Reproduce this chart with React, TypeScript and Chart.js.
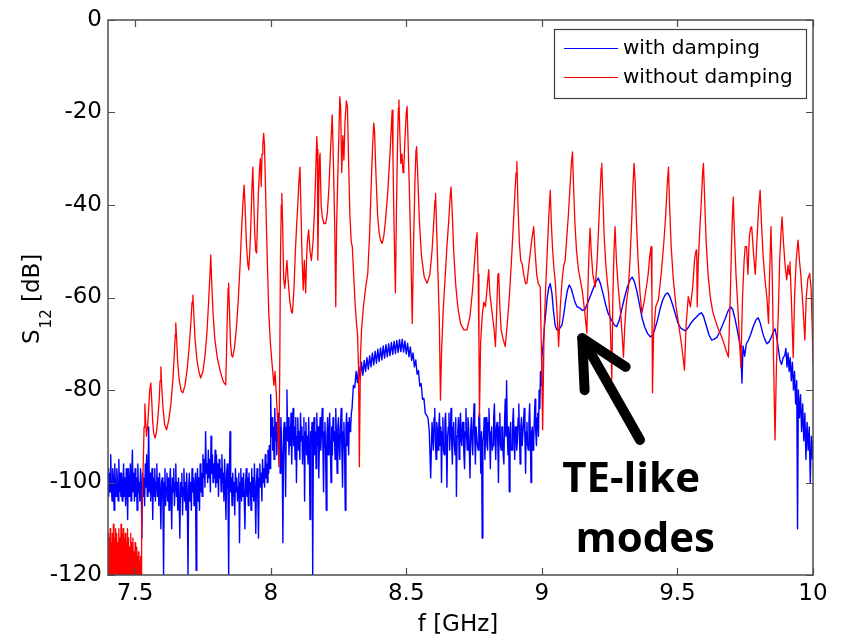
import { useEffect, useRef } from 'react';
import { Chart, registerables } from 'chart.js';

Chart.register(...registerables);

// ---- axis ticks ----
const xTicks = [7.5, 8, 8.5, 9, 9.5, 10];
const yTicks = [-120, -100, -80, -60, -40, -20, 0];
const seriesLabels = ['with damping', 'without damping'];

// ---- "with damping" (blue) ----
const blueFreq = [
  7.4, 7.4025, 7.405, 7.4075, 7.41, 7.4125, 7.415, 7.4175, 7.42, 7.4225, 7.425, 7.4275, 7.43, 7.4325, 7.435, 7.4375, 7.44, 7.4425, 7.445, 7.4475,
  7.45, 7.4525, 7.455, 7.4575, 7.46, 7.4625, 7.465, 7.4675, 7.47, 7.4725, 7.475, 7.4775, 7.48, 7.4825, 7.485, 7.4875, 7.49, 7.4925, 7.495, 7.4975,
  7.5, 7.5025, 7.505, 7.5075, 7.51, 7.5125, 7.515, 7.5175, 7.52, 7.5225, 7.525, 7.5275, 7.53, 7.5325, 7.535, 7.5375, 7.54, 7.5425, 7.545, 7.5475,
  7.55, 7.5525, 7.555, 7.5575, 7.56, 7.5625, 7.565, 7.5675, 7.57, 7.5725, 7.575, 7.5775, 7.58, 7.5825, 7.585, 7.5875, 7.59, 7.5925, 7.595, 7.5975,
  7.6, 7.6025, 7.605, 7.6075, 7.61, 7.6125, 7.615, 7.6175, 7.62, 7.6225, 7.625, 7.6275, 7.63, 7.6325, 7.635, 7.6375, 7.64, 7.6425, 7.645, 7.6475,
  7.65, 7.6525, 7.655, 7.6575, 7.66, 7.6625, 7.665, 7.6675, 7.67, 7.6725, 7.675, 7.6775, 7.68, 7.6825, 7.685, 7.6875, 7.69, 7.6925, 7.695, 7.6975,
  7.7, 7.7025, 7.705, 7.7075, 7.71, 7.7125, 7.715, 7.7175, 7.72, 7.7225, 7.725, 7.7275, 7.73, 7.7325, 7.735, 7.7375, 7.74, 7.7425, 7.745, 7.7475,
  7.75, 7.7525, 7.755, 7.7575, 7.76, 7.7625, 7.765, 7.7675, 7.77, 7.7725, 7.775, 7.7775, 7.78, 7.7825, 7.785, 7.7875, 7.79, 7.7925, 7.795, 7.7975,
  7.8, 7.8025, 7.805, 7.8075, 7.81, 7.8125, 7.815, 7.8175, 7.82, 7.8225, 7.825, 7.8275, 7.83, 7.8325, 7.835, 7.8375, 7.84, 7.8425, 7.845, 7.8475,
  7.85, 7.8525, 7.855, 7.8575, 7.86, 7.8625, 7.865, 7.8675, 7.87, 7.8725, 7.875, 7.8775, 7.88, 7.8825, 7.885, 7.8875, 7.89, 7.8925, 7.895, 7.8975,
  7.9, 7.9025, 7.905, 7.9075, 7.91, 7.9125, 7.915, 7.9175, 7.92, 7.9225, 7.925, 7.9275, 7.93, 7.9325, 7.935, 7.9375, 7.94, 7.9425, 7.945, 7.9475,
  7.95, 7.9525, 7.955, 7.9575, 7.96, 7.9625, 7.965, 7.9675, 7.97, 7.9725, 7.975, 7.9775, 7.98, 7.9825, 7.985, 7.9875, 7.99, 7.9925, 7.995, 7.9975,
  8.0, 8.0025, 8.005, 8.0075, 8.01, 8.0125, 8.015, 8.0175, 8.02, 8.0225, 8.025, 8.0275, 8.03, 8.0325, 8.035, 8.0375, 8.04, 8.0425, 8.045, 8.0475,
  8.05, 8.0525, 8.055, 8.0575, 8.06, 8.0625, 8.065, 8.0675, 8.07, 8.0725, 8.075, 8.0775, 8.08, 8.0825, 8.085, 8.0875, 8.09, 8.0925, 8.095, 8.0975,
  8.1, 8.1025, 8.105, 8.1075, 8.11, 8.1125, 8.115, 8.1175, 8.12, 8.1225, 8.125, 8.1275, 8.13, 8.1325, 8.135, 8.1375, 8.14, 8.1425, 8.145, 8.1475,
  8.15, 8.1525, 8.155, 8.1575, 8.16, 8.1625, 8.165, 8.1675, 8.17, 8.1725, 8.175, 8.1775, 8.18, 8.1825, 8.185, 8.1875, 8.19, 8.1925, 8.195, 8.1975,
  8.2, 8.2025, 8.205, 8.2075, 8.21, 8.2125, 8.215, 8.2175, 8.22, 8.2225, 8.225, 8.2275, 8.23, 8.2325, 8.235, 8.2375, 8.24, 8.2425, 8.245, 8.2475,
  8.25, 8.2525, 8.255, 8.2575, 8.26, 8.2625, 8.265, 8.2675, 8.27, 8.2725, 8.275, 8.2775, 8.28, 8.2825, 8.285, 8.2875, 8.29, 8.2925, 8.295, 8.2975,
  8.300, 8.305, 8.310, 8.315, 8.320, 8.325, 8.330, 8.335, 8.340, 8.345,
  8.350, 8.355, 8.360, 8.365, 8.370, 8.375, 8.380, 8.385, 8.390, 8.395,
  8.400, 8.405, 8.410, 8.415, 8.420, 8.425, 8.430, 8.435, 8.440, 8.445,
  8.450, 8.455, 8.460, 8.465, 8.470, 8.475, 8.480, 8.485, 8.490, 8.495,
  8.500, 8.505, 8.510, 8.515, 8.520, 8.525, 8.530, 8.535, 8.540, 8.545,
  8.550, 8.555, 8.560, 8.565, 8.570, 8.575, 8.580, 8.585, 8.590, 8.595,
  8.6, 8.6025, 8.605, 8.6075, 8.61, 8.6125, 8.615, 8.6175, 8.62, 8.6225, 8.625, 8.6275, 8.63, 8.6325, 8.635, 8.6375, 8.64, 8.6425, 8.645, 8.6475,
  8.65, 8.6525, 8.655, 8.6575, 8.66, 8.6625, 8.665, 8.6675, 8.67, 8.6725, 8.675, 8.6775, 8.68, 8.6825, 8.685, 8.6875, 8.69, 8.6925, 8.695, 8.6975,
  8.7, 8.7025, 8.705, 8.7075, 8.71, 8.7125, 8.715, 8.7175, 8.72, 8.7225, 8.725, 8.7275, 8.73, 8.7325, 8.735, 8.7375, 8.74, 8.7425, 8.745, 8.7475,
  8.75, 8.7525, 8.755, 8.7575, 8.76, 8.7625, 8.765, 8.7675, 8.77, 8.7725, 8.775, 8.7775, 8.78, 8.7825, 8.785, 8.7875, 8.79, 8.7925, 8.795, 8.7975,
  8.8, 8.8025, 8.805, 8.8075, 8.81, 8.8125, 8.815, 8.8175, 8.82, 8.8225, 8.825, 8.8275, 8.83, 8.8325, 8.835, 8.8375, 8.84, 8.8425, 8.845, 8.8475,
  8.85, 8.8525, 8.855, 8.8575, 8.86, 8.8625, 8.865, 8.8675, 8.87, 8.8725, 8.875, 8.8775, 8.88, 8.8825, 8.885, 8.8875, 8.89, 8.8925, 8.895, 8.8975,
  8.9, 8.9025, 8.905, 8.9075, 8.91, 8.9125, 8.915, 8.9175, 8.92, 8.9225, 8.925, 8.9275, 8.93, 8.9325, 8.935, 8.9375, 8.94, 8.9425, 8.945, 8.9475,
  8.95, 8.9525, 8.955, 8.9575, 8.96, 8.9625, 8.965, 8.9675, 8.97, 8.9725, 8.975, 8.9775, 8.98, 8.9825, 8.985, 8.9875, 8.99, 8.9925, 8.995, 8.9975,
  9.000, 9.005, 9.010, 9.015, 9.020, 9.025, 9.031, 9.037, 9.043, 9.049,
  9.055, 9.062, 9.068, 9.074, 9.080, 9.087, 9.094, 9.101, 9.108, 9.115,
  9.122, 9.130, 9.141, 9.150, 9.160, 9.170, 9.180, 9.190, 9.200, 9.208,
  9.216, 9.225, 9.235, 9.245, 9.258, 9.268, 9.276, 9.285, 9.295, 9.305,
  9.315, 9.325, 9.333, 9.341, 9.350, 9.360, 9.370, 9.380, 9.390, 9.400,
  9.408, 9.416, 9.426, 9.436, 9.446, 9.456, 9.464, 9.472, 9.482, 9.492,
  9.502, 9.512, 9.522, 9.530, 9.540, 9.550, 9.560, 9.570, 9.580, 9.588,
  9.596, 9.606, 9.616, 9.626, 9.636, 9.646, 9.656, 9.666, 9.676, 9.686,
  9.696, 9.704, 9.712, 9.720, 9.728, 9.734, 9.738, 9.742, 9.748, 9.754,
  9.762, 9.770, 9.780, 9.790, 9.798, 9.806, 9.814, 9.822, 9.830, 9.838,
  9.846, 9.854, 9.860, 9.866, 9.872, 9.878, 9.884, 9.890, 9.896, 9.900,
  9.904, 9.908, 9.912, 9.916, 9.920, 9.924, 9.928, 9.932, 9.936, 9.940,
  9.943, 9.946, 9.950, 9.954, 9.958, 9.962, 9.966, 9.970, 9.974, 9.978,
  9.982, 9.986, 9.990, 9.994, 9.998, 10.000,
];
const blueDb = [
  -97, -103, -98, -102, -94, -101, -104, -97, -99, -106, -96, -101, -103, -97, -100, -104, -95, -102, -98, -103,
  -98, -104, -101, -96, -103, -99, -105, -97, -101, -108, -97, -103, -100, -96, -104, -99, -93, -102, -98, -104,
  -97, -103, -99, -106, -96, -102, -100, -104, -97, -101, -112, -98, -103, -99, -105, -96, -101, -94, -103, -99,
  -88, -102, -98, -104, -100, -97, -108, -99, -103, -97, -104, -100, -96, -103, -99, -105, -98, -102, -110, -100,
  -99, -104, -120, -100, -97, -105, -101, -98, -104, -99, -106, -100, -97, -103, -110, -99, -102, -97, -105, -100,
  -96, -103, -100, -106, -99, -104, -112, -100, -103, -98, -107, -101, -97, -104, -100, -106, -98, -103, -120, -101,
  -98, -104, -100, -106, -97, -102, -99, -105, -101, -98, -119, -100, -97, -104, -99, -106, -96, -102, -98, -103,
  -94, -99, -95, -101, -89, -98, -96, -100, -93, -99, -95, -102, -90, -98, -94, -100, -96, -99, -93, -101,
  -94, -100, -96, -103, -95, -99, -97, -102, -94, -100, -98, -104, -95, -101, -108, -98, -96, -102, -120, -99,
  -89, -102, -99, -105, -98, -103, -100, -107, -97, -102, -99, -104, -101, -98, -113, -100, -97, -104, -99, -103,
  -98, -104, -110, -100, -97, -103, -99, -105, -98, -102, -100, -106, -97, -103, -99, -104, -96, -102, -111, -100,
  -97, -103, -112, -99, -96, -101, -98, -104, -95, -100, -97, -101, -94, -99, -96, -100, -93, -98, -92, -97,
  -81, -90, -86, -93, -88, -95, -84, -91, -87, -94, -89, -85, -92, -88, -98, -86, -91, -95, -113, -89,
  -87, -93, -103, -88, -80, -91, -86, -94, -88, -92, -85, -96, -89, -84, -92, -88, -95, -86, -100, -90,
  -86, -93, -89, -95, -85, -91, -88, -96, -90, -86, -104, -89, -87, -94, -90, -96, -86, -92, -108, -89,
  -91, -87, -120, -90, -86, -94, -89, -97, -85, -92, -88, -99, -90, -86, -93, -88, -84, -92, -102, -89,
  -87, -93, -106, -90, -86, -94, -89, -85, -92, -100, -88, -94, -86, -91, -89, -95, -84, -90, -98, -88,
  -86, -92, -95, -88, -84, -93, -101, -89, -87, -93, -106, -88, -85, -92, -87, -94, -86, -89, -88, -85,
  -84, -79, -79.5, -76, -78.4, -75, -77.6, -74, -76.8, -73.6,
  -76, -73, -75.5, -72.6, -75, -72, -74.6, -71.6, -74.2, -71.2,
  -73.8, -70.9, -73.5, -70.5, -73.1, -70.2, -72.8, -70, -72.6, -69.7,
  -72.3, -69.5, -72.1, -69.3, -71.9, -69.1, -71.7, -69, -71.8, -69.4,
  -72.2, -69.9, -72.8, -70.7, -73.6, -72, -75, -73.5, -76.6, -75.8,
  -79.2, -78.6, -82, -81.8, -85, -85.5, -86, -89, -99, -87,
  -93, -86, -84, -91, -95, -87, -89, -93, -88, -85, -92, -88, -100, -89, -86, -93, -94, -87, -85, -91,
  -101, -90, -88, -85, -93, -89, -84, -91, -96, -88, -87, -92, -94, -86, -103, -90, -89, -86, -95, -88,
  -85, -91, -92, -87, -87, -94, -97, -89, -84, -90, -93, -86, -88, -93, -99, -89, -86, -91, -94, -87,
  -83, -90, -96, -88, -88, -92, -93, -86, -85, -91, -98, -89, -112, -91, -90, -86, -95, -89, -86, -92,
  -93, -87, -84, -90, -97, -89, -88, -93, -92, -86, -83, -90, -95, -88, -87, -91, -100, -88, -85, -92,
  -93, -88, -88, -94, -96, -87, -82, -90, -78, -89, -94, -88, -102, -90, -87, -93, -93, -87, -84, -90,
  -95, -88, -88, -93, -91, -86, -83, -90, -96, -88, -86, -92, -92, -87, -84, -90, -98, -89, -87, -92,
  -93, -87, -83, -90, -100, -89, -88, -93, -91, -86, -82, -89, -92, -86, -85, -90, -80, -84, -76, -79,
  -73, -70, -66, -63, -60, -58, -57, -59, -63, -66,
  -67, -67, -66.5, -66, -64, -61, -58.5, -57.3, -58, -59.5,
  -61, -62, -62.3, -62.8, -62.5, -61, -59.5, -58, -56.5, -55.8,
  -57, -59, -61.5, -63.5, -65, -66, -66.3, -65, -62.5, -60,
  -57.8, -56.2, -55.6, -56.5, -58.5, -61.5, -64.5, -66.5, -67.8, -68.5,
  -68.2, -67, -65, -62.5, -60.5, -59.3, -59, -59.8, -61.5, -63.5,
  -65.5, -66.6, -67, -67.2, -66.5, -65.5, -64.8, -64.2, -63.6, -63.3,
  -64, -66, -68, -69.2, -69, -68.6, -67.4, -66, -64.6, -63,
  -62, -62.6, -64.5, -66.8, -69.4, -71.5, -78.5, -70.5, -72.7, -70,
  -69.2, -68, -66.2, -64.8, -64.4, -65.6, -67.6, -69, -70, -69.6,
  -68.6, -67.4, -66.8, -68.5, -71, -73.5, -74.5, -73, -72.5, -71,
  -75, -72, -76, -73, -78, -74, -80, -76, -83, -78,
  -110, -80, -86, -81, -89, -83, -91, -85, -95, -87,
  -93, -88, -100, -90, -95, -91,
];

// ---- "without damping" (red) ----
const redFreq = [
  7.400, 7.402, 7.404, 7.406, 7.408, 7.410, 7.412, 7.414, 7.416, 7.418,
  7.420, 7.422, 7.424, 7.426, 7.428, 7.430, 7.432, 7.434, 7.436, 7.438,
  7.440, 7.442, 7.444, 7.446, 7.448, 7.450, 7.452, 7.454, 7.456, 7.458,
  7.460, 7.462, 7.464, 7.466, 7.468, 7.470, 7.472, 7.474, 7.476, 7.478,
  7.480, 7.482, 7.484, 7.486, 7.488, 7.490, 7.492, 7.494, 7.496, 7.498,
  7.500, 7.502, 7.504, 7.506, 7.508, 7.510, 7.512, 7.514, 7.516, 7.518,
  7.520, 7.522, 7.524,
  7.526, 7.530, 7.533, 7.536, 7.539, 7.542, 7.546, 7.550,
  7.554, 7.558, 7.561, 7.565, 7.569, 7.574, 7.579, 7.584, 7.589, 7.592,
  7.595, 7.598, 7.603, 7.609, 7.616, 7.624, 7.632, 7.639, 7.644, 7.648,
  7.650, 7.653, 7.657, 7.663, 7.670, 7.676, 7.684, 7.692, 7.699, 7.705,
  7.710, 7.713, 7.716, 7.721, 7.728, 7.735, 7.742, 7.750, 7.758, 7.765,
  7.771, 7.776, 7.779, 7.782, 7.787, 7.794, 7.803, 7.814, 7.826, 7.834,
  7.837, 7.840, 7.843, 7.845, 7.848, 7.852, 7.856, 7.860, 7.866, 7.873,
  7.880, 7.887, 7.893, 7.898, 7.902, 7.906, 7.911, 7.916, 7.919, 7.923,
  7.927, 7.931, 7.934, 7.937, 7.941, 7.945, 7.948, 7.951, 7.955, 7.959,
  7.962, 7.965, 7.968, 7.971, 7.974, 7.977, 7.980, 7.984, 7.988, 7.993,
  7.999, 8.006, 8.012, 8.016, 8.020, 8.024, 8.028, 8.030, 8.033, 8.036,
  8.039, 8.041, 8.044, 8.048, 8.052, 8.056, 8.060, 8.064, 8.070, 8.076,
  8.080, 8.086, 8.091, 8.096, 8.100, 8.104, 8.108, 8.112, 8.116, 8.120,
  8.124, 8.129, 8.132, 8.135, 8.140, 8.145, 8.150, 8.156, 8.161, 8.166,
  8.170, 8.172, 8.174, 8.177, 8.180, 8.182, 8.186, 8.190, 8.196, 8.203,
  8.209, 8.215, 8.220, 8.224, 8.227, 8.231, 8.236, 8.240, 8.243, 8.247,
  8.251, 8.255, 8.258, 8.262, 8.266, 8.270, 8.274, 8.279, 8.283, 8.287,
  8.292, 8.297, 8.301, 8.306, 8.312, 8.317, 8.320, 8.324, 8.327, 8.331,
  8.335, 8.342, 8.350, 8.358, 8.365, 8.371, 8.376, 8.380, 8.383, 8.388,
  8.394, 8.400, 8.405, 8.411, 8.417, 8.424, 8.432, 8.440, 8.445, 8.448,
  8.451, 8.455, 8.460, 8.464, 8.468, 8.471, 8.473, 8.476, 8.480, 8.484,
  8.488, 8.491, 8.495, 8.500, 8.503, 8.507, 8.512, 8.517, 8.522, 8.527,
  8.532, 8.536, 8.538, 8.542, 8.548, 8.556, 8.566, 8.577, 8.587, 8.595,
  8.601, 8.606, 8.608, 8.612, 8.617, 8.622, 8.626, 8.630, 8.636, 8.643,
  8.650, 8.657, 8.662, 8.665, 8.669, 8.675, 8.682, 8.690, 8.700, 8.712,
  8.724, 8.735, 8.745, 8.752, 8.757, 8.761, 8.765, 8.768, 8.770, 8.774,
  8.780, 8.786, 8.792, 8.798, 8.804, 8.808, 8.812, 8.818, 8.824, 8.829,
  8.834, 8.838, 8.841, 8.845, 8.850, 8.857, 8.865, 8.872, 8.880, 8.888,
  8.895, 8.901, 8.905, 8.908, 8.912, 8.917, 8.922, 8.927, 8.933, 8.940,
  8.945, 8.952, 8.958, 8.964, 8.970, 8.975, 8.981, 8.987, 8.994, 8.998,
  9.003, 9.008, 9.014, 9.020, 9.026, 9.031, 9.035, 9.040, 9.045, 9.049,
  9.055, 9.062, 9.068, 9.075, 9.081, 9.086, 9.092, 9.098, 9.104, 9.109,
  9.113, 9.117, 9.122, 9.128, 9.135, 9.142, 9.150, 9.158, 9.166, 9.170,
  9.174, 9.178, 9.182, 9.188, 9.197, 9.204, 9.210, 9.215, 9.219, 9.221,
  9.225, 9.230, 9.236, 9.242, 9.246, 9.252, 9.258, 9.262, 9.266, 9.270,
  9.275, 9.282, 9.290, 9.296, 9.301, 9.306, 9.312, 9.319, 9.325, 9.331,
  9.336, 9.340, 9.344, 9.349, 9.355, 9.362, 9.369, 9.377, 9.385, 9.392,
  9.398, 9.403, 9.406, 9.408, 9.412, 9.420, 9.430, 9.440, 9.450, 9.457,
  9.462, 9.467, 9.471, 9.477, 9.485, 9.495, 9.505, 9.516, 9.521, 9.526,
  9.532, 9.540, 9.548, 9.556, 9.563, 9.568, 9.571, 9.573, 9.577, 9.583,
  9.589, 9.593, 9.596, 9.600, 9.606, 9.613, 9.621, 9.630, 9.640, 9.652,
  9.663, 9.672, 9.680, 9.688, 9.694, 9.699, 9.703, 9.706, 9.710, 9.716,
  9.724, 9.734, 9.740, 9.746, 9.750, 9.755, 9.760, 9.765, 9.770, 9.774,
  9.780, 9.787, 9.793, 9.799, 9.805, 9.810, 9.816, 9.823, 9.830, 9.836,
  9.840, 9.845, 9.850, 9.855, 9.860, 9.865, 9.872, 9.877, 9.882, 9.886,
  9.891, 9.897, 9.903, 9.908, 9.912, 9.915, 9.920, 9.927, 9.932, 9.938,
  9.945, 9.950, 9.955, 9.958, 9.963, 9.970, 9.975, 9.981, 9.988, 9.993,
  9.997, 10.000,
];
const redDb = [
  -111, -123, -112, -126, -110, -121, -113, -125, -111, -122,
  -109, -124, -112, -127, -110, -120, -111, -125, -113, -123,
  -110, -126, -112, -121, -109, -124, -111, -127, -110, -122,
  -112, -125, -111, -120, -113, -126, -110, -123, -112, -127,
  -114, -122, -111, -125, -113, -121, -112, -126, -115, -123,
  -113, -127, -114, -122, -116, -125, -115, -121, -117, -126,
  -116, -120, -110,
  -104, -96, -88, -83, -87, -90, -88, -84,
  -80, -78.5, -82, -87, -89.5, -90.4, -89, -86, -82, -78,
  -75, -79, -84, -87.5, -88.6, -86.5, -83, -78, -73, -68,
  -65.5, -69, -74, -78, -80.2, -80.6, -79, -75.5, -71, -66,
  -61, -59.5, -63, -69, -73.5, -76, -77.4, -76, -72.5, -67.5,
  -61, -55, -50.8, -56, -63, -69, -73, -76, -78.3, -78.9,
  -72, -64, -58, -56.9, -63, -70, -72.5, -72.9, -71, -67,
  -61, -53, -45, -39, -35.7, -41, -49, -53, -54, -50,
  -44, -36, -31.8, -38, -46, -50, -50.4, -44, -37, -32,
  -30, -36, -29, -27, -24.5, -27, -34, -44, -53, -63.4,
  -70, -75, -79, -76, -80, -85, -91, -96.6, -78, -52,
  -40, -37.5, -44, -56, -58, -55, -52, -56, -60.5, -63,
  -63.4, -58, -50, -44, -40, -35, -31.8, -42, -52, -58.4,
  -52, -59, -52, -48.3, -45.4, -50, -52, -48, -42, -33,
  -25.2, -28, -51.9, -38, -30, -28.8, -40, -42.5, -44, -44,
  -41.8, -36, -29, -24, -20.5, -30, -44, -62, -45, -35,
  -26, -16.6, -19, -33, -25, -30.3, -22, -17.5, -18.7, -30,
  -42, -48, -49, -55, -62, -66, -67.7, -75, -96.6, -73,
  -67, -62, -58, -54.8, -46, -35, -27, -22.3, -24, -33,
  -42, -46, -47.6, -48.3, -46.8, -43, -37, -29, -23, -19.5,
  -30, -45, -59, -40, -26, -19, -17.3, -24, -31, -29,
  -33, -31.8, -26, -20, -18.7, -27, -38, -50, -65.6, -48,
  -35, -28, -27.4, -33, -43, -51, -55.5, -56.9, -55, -50,
  -44, -39, -37.5, -45, -55, -65, -82.2, -72, -63, -56,
  -49, -43, -38, -36.1, -41, -50, -57, -62, -65.6, -67,
  -67, -64, -58, -52, -48, -46, -55, -70, -85.8, -70,
  -64, -61, -62, -58, -54, -59, -61, -64, -67, -70.6,
  -62, -55, -54.8, -62, -67, -69, -70.6, -66, -60, -52,
  -44, -37, -33, -30.6, -40, -48, -52, -52.6, -55, -57,
  -56.9, -53, -50, -47, -44.7, -50, -55, -57, -57.7, -70,
  -88.6, -68, -58, -50, -42, -36.8, -44, -50, -54, -56.2,
  -62, -70.6, -62, -56, -53, -52, -47, -42, -36, -31,
  -28.5, -36, -44, -50, -54, -56.2, -59, -63, -67.7, -58,
  -50, -45, -50, -55, -57.7, -52, -44, -37, -32, -31,
  -38, -47, -53, -57, -59, -65, -77.8, -60, -50, -44.7,
  -52, -58, -63, -68, -72.9, -66, -61, -58, -52, -44,
  -36, -31, -34.6, -44, -52, -59, -63.4, -61, -58, -55,
  -51, -49, -60, -80.6, -68, -62, -60.5, -55, -48, -42,
  -36, -31.8, -40, -49, -56.2, -62, -66, -70.6, -73, -75.7,
  -66, -59.8, -62, -58, -52, -50, -49.7, -62, -52, -45,
  -38, -33, -31, -38, -48, -55, -59.8, -63, -65, -67,
  -68.5, -70, -71.5, -72.9, -62, -50, -42, -38.3, -46, -55,
  -63.4, -75, -60, -52, -49, -49, -55, -47, -45, -44.7,
  -50, -55, -48, -41, -36.8, -44, -51, -56.2, -60, -65.6,
  -55, -44.7, -56, -75, -90.8, -75, -63.4, -52, -46, -42.6,
  -48, -53, -56.2, -53, -55, -52.3, -60, -73, -60, -52,
  -47.6, -52, -55, -57.7, -62, -69.2, -60, -56, -54.8, -58,
  -66, -74.2,
];

// ---- annotation anchors (data units) ----
const arrowTip = { f: 9.149, db: -68.8 };
const arrowTail = { f: 9.362, db: -90.8 };
const noteLines = [
  { text: 'TE-like', f: 9.329, db: -102.0 },
  { text: 'modes', f: 9.381, db: -115.0 },
];

const blueColor = '#0000ff';
const redColor = '#ff0000';

const overlayPlugin = {
  id: 'overlay',
  afterDraw(chart: any) {
    const { ctx, chartArea: a, scales } = chart;
    const xs = scales.x;
    const ys = scales.y;
    ctx.save();

    // axes box
    ctx.strokeStyle = '#4d4d4d';
    ctx.lineWidth = 1.5;
    ctx.strokeRect(a.left, a.top, a.right - a.left, a.bottom - a.top);

    // inward ticks on all four sides
    ctx.lineWidth = 1.2;
    ctx.beginPath();
    const tl = 7;
    xTicks.forEach((v) => {
      const px = Math.round(xs.getPixelForValue(v)) + 0.5;
      ctx.moveTo(px, a.bottom);
      ctx.lineTo(px, a.bottom - tl);
      ctx.moveTo(px, a.top);
      ctx.lineTo(px, a.top + tl);
    });
    yTicks.forEach((v) => {
      const py = Math.round(ys.getPixelForValue(v)) + 0.5;
      ctx.moveTo(a.left, py);
      ctx.lineTo(a.left + tl, py);
      ctx.moveTo(a.right, py);
      ctx.lineTo(a.right - tl, py);
    });
    ctx.stroke();

    // legend
    const lx = 554, ly = 29, lw = 252, lh = 69;
    ctx.fillStyle = '#ffffff';
    ctx.fillRect(lx, ly, lw, lh);
    ctx.strokeStyle = '#404040';
    ctx.lineWidth = 1.2;
    ctx.strokeRect(lx + 0.5, ly + 0.5, lw, lh);
    const legendColors = [blueColor, redColor];
    const rowsY = [48, 77];
    ctx.font = '20px "DejaVu Sans"';
    ctx.textAlign = 'left';
    ctx.textBaseline = 'alphabetic';
    seriesLabels.forEach((lab, i) => {
      ctx.strokeStyle = legendColors[i];
      ctx.lineWidth = 1.2;
      ctx.beginPath();
      ctx.moveTo(564, rowsY[i] + 0.5);
      ctx.lineTo(618, rowsY[i] + 0.5);
      ctx.stroke();
      ctx.fillStyle = '#000';
      ctx.fillText(lab, 623, rowsY[i] + 6);
    });

    // x title
    ctx.fillStyle = '#000';
    ctx.font = '23px "DejaVu Sans"';
    ctx.textAlign = 'center';
    ctx.fillText('f [GHz]', 458, 631);

    // y title with subscript
    ctx.save();
    ctx.translate(39, 344);
    ctx.rotate(-Math.PI / 2);
    ctx.textAlign = 'left';
    ctx.font = '23px "DejaVu Sans"';
    ctx.fillText('S', 0, 0);
    const wS = ctx.measureText('S').width;
    ctx.font = '15px "DejaVu Sans"';
    ctx.fillText('12', wS + 1, 12);
    const w12 = ctx.measureText('12').width;
    ctx.font = '23px "DejaVu Sans"';
    ctx.fillText(' [dB]', wS + 1 + w12, 0);
    ctx.restore();

    // arrow
    const tx = xs.getPixelForValue(arrowTip.f);
    const ty = ys.getPixelForValue(arrowTip.db);
    const bx = xs.getPixelForValue(arrowTail.f);
    const by = ys.getPixelForValue(arrowTail.db);
    const ang = Math.atan2(by - ty, bx - tx);
    const spread = (27 * Math.PI) / 180;
    const hl = 52;
    ctx.strokeStyle = '#000';
    ctx.lineWidth = 10;
    ctx.lineCap = 'round';
    ctx.lineJoin = 'round';
    ctx.beginPath();
    ctx.moveTo(bx, by);
    ctx.lineTo(tx, ty);
    ctx.stroke();
    ctx.beginPath();
    ctx.moveTo(tx + hl * Math.cos(ang + spread), ty + hl * Math.sin(ang + spread));
    ctx.lineTo(tx, ty);
    ctx.lineTo(tx + hl * Math.cos(ang - spread), ty + hl * Math.sin(ang - spread));
    ctx.stroke();

    // note text
    ctx.fillStyle = '#000';
    ctx.font = 'bold 42px "Open Sans", "DejaVu Sans", sans-serif';
    ctx.textAlign = 'center';
    ctx.textBaseline = 'alphabetic';
    noteLines.forEach((n) => {
      ctx.fillText(n.text, xs.getPixelForValue(n.f), ys.getPixelForValue(n.db));
    });

    ctx.restore();
  },
};

export default function App() {
  const canvasRef = useRef<HTMLCanvasElement | null>(null);

  useEffect(() => {
    if (!canvasRef.current) return;
    const tickFont = { family: 'DejaVu Sans', size: 23 };
    const chart = new Chart(canvasRef.current, {
      type: 'line',
      data: {
        datasets: [
          {
            label: seriesLabels[1],
            data: redFreq.map((f, i) => ({ x: f, y: redDb[i] })),
            borderColor: redColor,
            borderWidth: 1.3,
            pointRadius: 0,
            tension: 0,
            borderJoinStyle: 'round',
            fill: false,
          },
          {
            label: seriesLabels[0],
            data: blueFreq.map((f, i) => ({ x: f, y: blueDb[i] })),
            borderColor: blueColor,
            borderWidth: 1.4,
            pointRadius: 0,
            tension: 0,
            borderJoinStyle: 'round',
            fill: false,
          },
        ],
      },
      options: {
        animation: false,
        responsive: false,
        devicePixelRatio: 1,
        events: [],
        layout: { padding: { left: 0, right: 28, top: 20, bottom: 0 } },
        plugins: { legend: { display: false }, tooltip: { enabled: false } },
        scales: {
          x: {
            type: 'linear',
            min: 7.4,
            max: 10,
            afterBuildTicks: (s: any) => {
              s.ticks = xTicks.map((v) => ({ value: v }));
            },
            afterFit: (s: any) => {
              s.height = 61;
            },
            grid: { display: false, drawTicks: false },
            border: { display: false },
            ticks: {
              autoSkip: false,
              maxRotation: 0,
              padding: 5,
              color: '#000',
              font: tickFont,
              callback: (v: any) => String(v),
            },
          },
          y: {
            type: 'linear',
            min: -120,
            max: 0,
            afterBuildTicks: (s: any) => {
              s.ticks = yTicks.map((v) => ({ value: v }));
            },
            afterFit: (s: any) => {
              s.width = 108;
            },
            grid: { display: false, drawTicks: false },
            border: { display: false },
            ticks: {
              padding: 6,
              color: '#000',
              font: tickFont,
              callback: (v: any) => String(v),
            },
          },
        },
      } as any,
      plugins: [overlayPlugin],
    });
    return () => chart.destroy();
  }, []);

  return (
    <div style={{ position: 'absolute', left: 0, top: 0, width: 841, height: 636, background: '#fff' }}>
      <canvas ref={canvasRef} width={841} height={636} style={{ display: 'block', width: 841, height: 636 }} />
    </div>
  );
}
